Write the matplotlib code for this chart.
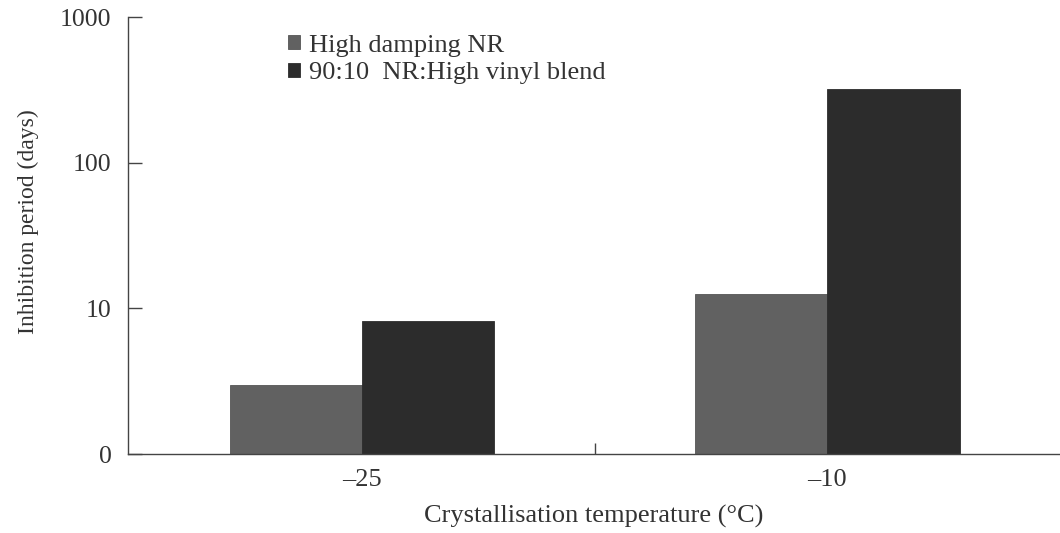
import matplotlib.pyplot as plt
import numpy as np
from matplotlib.ticker import FixedLocator, FixedFormatter

temps = ['\u201325', '\u201310']
high_damping = [3.0, 12.5]
blend = [8.2, 320]
series_names = ['High damping NR', '90:10  NR:High vinyl blend']
y_ticks = [1, 10, 100, 1000]
y_ticklabels = ['0', '10', '100', '1000']

plt.rcParams['font.family'] = ['Liberation Serif', 'DejaVu Serif']

fig = plt.figure(figsize=(10.6, 5.33), dpi=100)
ax = fig.add_axes([0.121, 0.148, 0.879, 0.82])

x = np.arange(len(temps))
w = 0.284
ax.bar(x - w / 2, high_damping, w, color='#616161', edgecolor='#555555', linewidth=0.6,
       label=series_names[0])
ax.bar(x + w / 2, blend, w, color='#2c2c2c', edgecolor='#2c2c2c', linewidth=0.6,
       label=series_names[1])

ax.set_yscale('log')
ax.set_ylim(1, 1000)
ax.set_xlim(-0.503, 1.5)
ax.yaxis.set_major_locator(FixedLocator(y_ticks))
ax.yaxis.set_major_formatter(FixedFormatter(y_ticklabels))
ax.yaxis.set_minor_locator(FixedLocator([]))

ax.set_xticks(x)
ax.set_xticklabels(temps)
ax.set_xticks([0.5], minor=True)
ax.tick_params(axis='x', which='major', length=0, pad=11, labelsize=19, colors='#333333')
ax.tick_params(axis='x', which='minor', direction='in', length=8, width=1, color='#444444')
ax.tick_params(axis='y', direction='in', length=10, width=1, pad=12, labelsize=18.5,
               colors='#333333', color='#444444')

for s in ['top', 'right']:
    ax.spines[s].set_visible(False)
for s in ['left', 'bottom']:
    ax.spines[s].set_color('#444444')
    ax.spines[s].set_linewidth(1)

ax.set_xlabel('Crystallisation temperature (\u00b0C)', fontsize=19, color='#333333', labelpad=10)
ax.set_ylabel('Inhibition period (days)', fontsize=17, color='#333333')
ax.yaxis.set_label_coords(-0.096, 0.531)

ax.legend(loc='upper left', bbox_to_anchor=(0.171, 0.96), frameon=False, fontsize=19,
          borderaxespad=0, borderpad=0,
          handlelength=0.46, handleheight=0.46, handletextpad=0.35, labelspacing=0.22,
          labelcolor='#333333')

fig.savefig('out.png', dpi=100)
